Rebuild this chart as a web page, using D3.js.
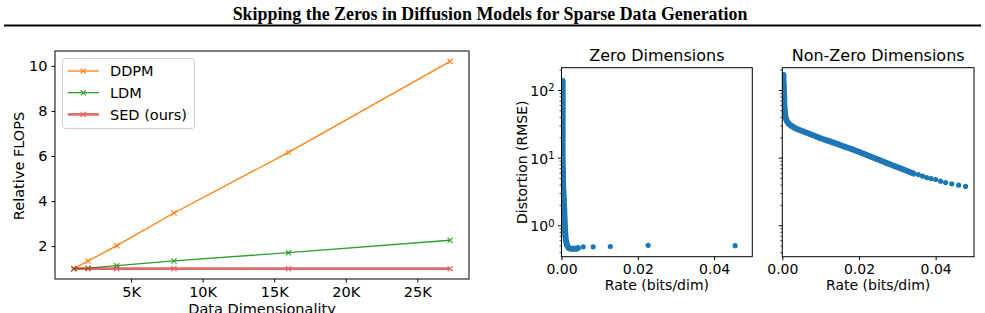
<!DOCTYPE html>
<html><head><meta charset="utf-8">
<script src="https://cdn.jsdelivr.net/npm/d3@7"></script>
<style>
body{margin:0;background:#fff;}
svg{display:block;}
text{font-family:"DejaVu Sans",sans-serif;fill:#000;}
</style></head>
<body><svg id="c" width="985" height="313"></svg>
<script>
// ---------- data ----------
const title = "Skipping the Zeros in Diffusion Models for Sparse Data Generation";
const dims = [1000, 2000, 4000, 8000, 16000, 27300];
const ddpmFlops = [1, 1.34, 2.02, 3.47, 6.16, 10.2];
const ldmFlops = [1, 1.02, 1.13, 1.34, 1.71, 2.26];
const sedFlops = [1, 1, 1, 1, 1, 1];
const seriesNames = ["DDPM", "LDM", "SED (ours)"];
const dimTicks = [5000, 10000, 15000, 20000, 25000];
const dimTickLabels = ["5K", "10K", "15K", "20K", "25K"];
const flopTicks = [2, 4, 6, 8, 10];

const zeroDenseRate = [0.0003,0.0003,0.0003,0.0003,0.0003,0.0003,0.0003,0.0003,0.0004,0.0004,0.0005,0.0006,0.0007,0.0008,0.0009,0.0010,0.0012,0.0015,0.0019,0.0024,0.0029,0.0034,0.0039,0.0043];
const zeroDenseDist = [136,110,80,55,35,22,14,9,6,4.2,3.2,2.4,1.8,1.3,0.95,0.72,0.58,0.5,0.46,0.45,0.45,0.45,0.45,0.46];
const zeroTailRate = [0.0057, 0.0083, 0.0128, 0.0227, 0.0455];
const zeroTailDist = [0.48, 0.48, 0.485, 0.505, 0.5];

const nzDenseRate = [0.0003,0.0003,0.0004,0.0004,0.0005,0.0005,0.0006,0.0007,0.0008,0.0010,0.0013,0.0017,0.0022,0.0035,0.0055,0.0077,0.0098,0.0120,0.0141,0.0163,0.0185,0.0206,0.0228,0.0250,0.0272,0.0294,0.0316,0.0342];
const nzDenseDist = [166,140,115,95,78,64,54,46,41,37,34,31.5,30,27,24.4,21.8,19.5,17.7,16.1,14.5,13.1,11.8,10.5,9.4,8.35,7.45,6.67,5.82];
const nzTailRate = [0.0355,0.0366,0.0377,0.0388,0.0400,0.0413,0.0426,0.0442,0.0460,0.0478];
const nzTailDist = [5.62,5.31,5.08,4.91,4.75,4.48,4.28,4.10,3.92,3.75];

const rateTicks = [0, 0.02, 0.04];
const distMajor = [1, 10, 100];
const distMinor = [0.4,0.5,0.6,0.7,0.8,0.9,2,3,4,5,6,7,8,9,20,30,40,50,60,70,80,90,200];

// ---------- drawing ----------
const svg = d3.select("#c");
svg.append("text").attr("x", 490).attr("y", 20).attr("text-anchor", "middle")
  .style("font-family", "'Liberation Serif','Times New Roman',serif").style("font-weight", "bold")
  .style("font-size", "17.9px").text(title);
svg.append("line").attr("x1", 4).attr("x2", 981).attr("y1", 25.5).attr("y2", 25.5)
  .attr("stroke", "#000").attr("stroke-width", 2);

// ----- left chart -----
const L = {l: 55, r: 469, t: 51, b: 279};
const xMin = d3.min(dims), xMax = d3.max(dims), xs = xMax - xMin;
const x = d3.scaleLinear().domain([xMin - 0.05 * xs, xMax + 0.05 * xs]).range([L.l, L.r]);
const yAll = ddpmFlops.concat(ldmFlops, sedFlops);
const yMin = d3.min(yAll), yMax = d3.max(yAll), ys = yMax - yMin;
const y = d3.scaleLinear().domain([yMin - 0.05 * ys, yMax + 0.05 * ys]).range([L.b, L.t]);

const gl = svg.append("g");
const xAx = gl.append("g").attr("transform", `translate(0,${L.b})`)
  .call(d3.axisBottom(x).tickValues(dimTicks).tickFormat((d, i) => dimTickLabels[i]).tickSize(3.5).tickPadding(4));
const yAx = gl.append("g").attr("transform", `translate(${L.l},0)`)
  .call(d3.axisLeft(y).tickValues(flopTicks).tickFormat(d3.format("d")).tickSize(3.5).tickPadding(4));
[xAx, yAx].forEach(a => { a.select(".domain").remove(); a.selectAll("text").style("font-size", "14.5px").style("font-family", "DejaVu Sans"); a.selectAll("line").attr("stroke", "#000"); });

const series = [
  {name: seriesNames[0], vals: ddpmFlops, color: "#ff7f0e", w: 1.3, op: 1},
  {name: seriesNames[1], vals: ldmFlops, color: "#2ca02c", w: 1.3, op: 1},
  {name: seriesNames[2], vals: sedFlops, color: "#d62728", w: 2.6, op: 0.7}
];
const line = d3.line().x(d => x(d[0])).y(d => y(d[1]));
function xMark(g, cx, cy, color, s) {
  g.append("path").attr("d", `M${cx - s},${cy - s}L${cx + s},${cy + s}M${cx - s},${cy + s}L${cx + s},${cy - s}`)
    .attr("stroke", color).attr("stroke-width", 1.1).attr("fill", "none");
}
series.forEach(s => {
  const pts = dims.map((d, i) => [d, s.vals[i]]);
  const g = gl.append("g").attr("opacity", s.op);
  g.append("path").attr("d", line(pts)).attr("fill", "none").attr("stroke", s.color).attr("stroke-width", s.w);
  pts.forEach(p => xMark(g, x(p[0]), y(p[1]), s.color, 2.6));
});
gl.append("rect").attr("x", L.l).attr("y", L.t).attr("width", L.r - L.l).attr("height", L.b - L.t)
  .attr("fill", "none").attr("stroke", "#000").attr("stroke-width", 1);

// legend
const lg = gl.append("g");
lg.append("rect").attr("x", 62.5).attr("y", 58.5).attr("width", 132).attr("height", 70).attr("rx", 3)
  .attr("fill", "#fff").attr("fill-opacity", 0.8).attr("stroke", "#d0d0d0").attr("stroke-width", 1);
series.forEach((s, i) => {
  const cy = 71 + i * 21.7;
  const g = lg.append("g").attr("opacity", s.op);
  g.append("line").attr("x1", 67.7).attr("x2", 99).attr("y1", cy).attr("y2", cy).attr("stroke", s.color).attr("stroke-width", s.w);
  xMark(g, 83.3, cy, s.color, 2.6);
  lg.append("text").attr("x", 110).attr("y", cy).attr("dy", "0.36em").style("font-size", "14.5px").text(s.name);
});
gl.append("text").attr("transform", "translate(19,166) rotate(-90)").attr("text-anchor", "middle").attr("dy", "0.36em")
  .style("font-size", "14.5px").text("Relative FLOPS");
gl.append("text").attr("x", (L.l + L.r) / 2).attr("y", 314).attr("text-anchor", "middle")
  .style("font-size", "14.5px").text("Data Dimensionality");

// ----- right panels -----
const T = 67.7, B = 256.7;
const yl = d3.scaleLog().domain([0.343, 213.6]).range([B, T]);
const panels = [
  {l: 561.5, r: 752.3, title: "Zero Dimensions", dR: zeroDenseRate, dD: zeroDenseDist, tR: zeroTailRate, tD: zeroTailDist, labels: true},
  {l: 782.3, r: 974, title: "Non-Zero Dimensions", dR: nzDenseRate, dD: nzDenseDist, tR: nzTailRate, tD: nzTailDist, labels: false}
];
const defs = svg.append("defs");
panels.forEach((p, pi) => {
  const xr = d3.scaleLinear().domain([0, 0.05]).range([p.l, p.r]);
  const g = svg.append("g");
  defs.append("clipPath").attr("id", "cp" + pi).append("rect")
    .attr("x", p.l).attr("y", T).attr("width", p.r - p.l).attr("height", B - T);
  const xa = g.append("g").attr("transform", `translate(0,${B})`)
    .call(d3.axisBottom(xr).tickValues(rateTicks).tickFormat(d3.format(".2f")).tickSize(3.5).tickPadding(3.5));
  xa.select(".domain").remove();
  xa.selectAll("text").style("font-size", "14px");
  xa.selectAll("line").attr("stroke", "#000");
  const ya = g.append("g").attr("transform", `translate(${p.l},0)`)
    .call(d3.axisLeft(yl).tickValues(distMajor).tickFormat("").tickSize(3.5));
  ya.select(".domain").remove();
  ya.selectAll("line").attr("stroke", "#000");
  const ym = g.append("g").attr("transform", `translate(${p.l},0)`)
    .call(d3.axisLeft(yl).tickValues(distMinor).tickFormat("").tickSize(2));
  ym.select(".domain").remove();
  ym.selectAll("line").attr("stroke", "#000").attr("stroke-width", 0.7);
  if (p.labels) {
    distMajor.forEach(v => {
      const t = g.append("text").attr("x", p.l - 7).attr("y", yl(v)).attr("dy", "0.42em").attr("text-anchor", "end").style("font-size", "14px");
      t.append("tspan").text("10");
      t.append("tspan").attr("dy", "-0.45em").style("font-size", "10px").text(String(Math.round(Math.log10(v))));
    });
    g.append("text").attr("transform", `translate(522,${(T + B) / 2}) rotate(-90)`).attr("text-anchor", "middle").attr("dy", "0.36em")
      .style("font-size", "14px").text("Distortion (RMSE)");
  }
  const pg = g.append("g").attr("clip-path", `url(#cp${pi})`);
  const dpts = p.dR.map((r, i) => [r, p.dD[i]]);
  pg.append("path").attr("d", d3.line().x(d => xr(d[0])).y(d => yl(d[1]))(dpts))
    .attr("fill", "none").attr("stroke", "#1f77b4").attr("stroke-width", 6).attr("stroke-linejoin", "round").attr("stroke-linecap", "round");
  const tpts = p.tR.map((r, i) => [r, p.tD[i]]);
  pg.selectAll("circle.t").data(dpts.concat(tpts)).enter().append("circle")
    .attr("cx", d => xr(d[0])).attr("cy", d => yl(d[1])).attr("r", 2.6).attr("fill", "#1f77b4");
  g.append("rect").attr("x", p.l).attr("y", T).attr("width", p.r - p.l).attr("height", B - T)
    .attr("fill", "none").attr("stroke", "#000").attr("stroke-width", 1);
  g.append("text").attr("x", (p.l + p.r) / 2).attr("y", 61).attr("text-anchor", "middle").style("font-size", "16px").text(p.title);
  g.append("text").attr("x", (p.l + p.r) / 2).attr("y", 289.5).attr("text-anchor", "middle").style("font-size", "14px").text("Rate (bits/dim)");
});
</script></body></html>
